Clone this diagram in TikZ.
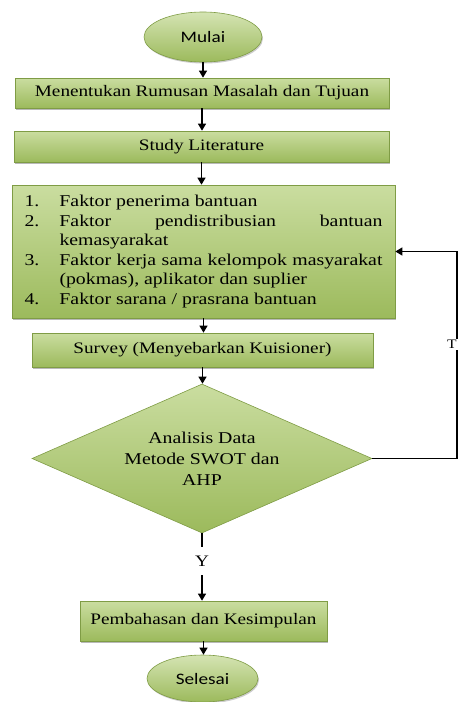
\documentclass[tikz,border=0pt]{standalone}
\usepackage{fontspec}
\setmainfont[FakeStretch=1.2]{Liberation Serif}
\newfontfamily\ovalfont[FakeStretch=1.2]{Carlito}
\usetikzlibrary{shapes.geometric,arrows.meta,shadows}
\definecolor{gtop}{HTML}{CADDA0}
\definecolor{gbot}{HTML}{9CBA5C}
\definecolor{gedge}{HTML}{7F9C45}
\begin{document}
\begin{tikzpicture}[x=1pt,y=-1pt,
  box/.style={rectangle, draw=gedge, line width=0.6pt, top color=gtop, bottom color=gbot,
    drop shadow={shadow xshift=1pt,shadow yshift=-1.5pt,fill=black!55},
    font=\fontsize{16}{19}\selectfont, inner sep=0pt},
  oval/.style={ellipse, draw=gedge, line width=0.6pt, top color=gtop!80!white, bottom color=gbot,
    drop shadow={shadow xshift=1pt,shadow yshift=-1.5pt,fill=black!40},
    font=\ovalfont\fontsize{16}{19}\selectfont, inner sep=0pt},
  dia/.style={diamond, aspect=2.28, draw=gedge, line width=0.6pt, top color=gtop, bottom color=gbot,
    font=\fontsize{16.5}{21}\selectfont, align=center, inner sep=0pt},
  arr/.style={line width=1.2pt, -{Triangle[length=7pt,width=8pt]}},
  lab/.style={fill=white, font=\fontsize{16}{19}\selectfont, inner sep=1pt}
]
\useasboundingbox (0,0) rectangle (458,702);

\node[oval, minimum width=118, minimum height=50] (start) at (203,37) {Mulai};
\node[box, minimum width=374, minimum height=30] (b1) at (202,93) {Menentukan Rumusan Masalah dan Tujuan};
\node[box, minimum width=375, minimum height=31] (b2) at (201.5,146.5) {Study Literature};
\node[box, minimum width=383, minimum height=133, font=\fontsize{16.5}{19.6}\selectfont] (b3) at (203.5,251.5) {%
\begin{tabular}{@{}p{35pt}@{}p{323pt}@{}}
1. & Faktor penerima bantuan\\
2. & \makebox[323pt][s]{Faktor pendistribusian bantuan}\\
 & kemasyarakat\\
3. & \makebox[323pt][s]{Faktor kerja sama kelompok masyarakat}\\
 & (pokmas), aplikator dan suplier\\
4. & Faktor sarana / prasrana bantuan
\end{tabular}};
\node[box, minimum width=341, minimum height=34] (b4) at (202.5,350) {Survey (Menyebarkan Kuisioner)};
\node[dia, minimum width=340, minimum height=149] (d) at (202,458.5) {Analisis Data\\Metode SWOT dan\\AHP};
\node[box, minimum width=247, minimum height=40] (b5) at (203.5,621) {Pembahasan dan Kesimpulan};
\node[oval, minimum width=111, minimum height=47] (end) at (202.5,678.5) {Selesai};

\coordinate (loopx) at (457,0);

\draw[arr] (start.south) -- (start.south |- b1.north);
\draw[arr] (b1.south) -- (b1.south |- b2.north);
\draw[arr] (b2.south) -- (b2.south |- b3.north);
\draw[arr] (b3.south) -- (b3.south |- b4.north);
\draw[arr] (b4.south) -- (b4.south |- d.north);
\draw[arr] (d.south) -- node[lab, pos=0.41, minimum height=28pt] (ylab) {Y} (d.south |- b5.north);
\draw[arr] (b5.south) -- (b5.south |- end.north);
\draw[arr] (d.east) -- (d.east -| loopx) -- node[lab, pos=0.55, xshift=-5pt, font=\fontsize{13}{15}\selectfont] (tlab) {T} (loopx |- b3.east) -- (b3.east);
\end{tikzpicture}
\end{document}
